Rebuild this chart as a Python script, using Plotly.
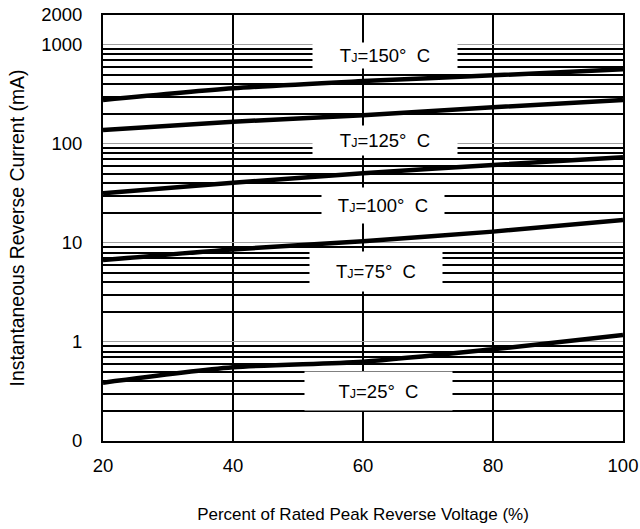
import math
import plotly.graph_objects as go

# ---- data ----
x_pct = [20, 40, 60, 80, 100]
i_150 = [277, 364, 430, 492, 566]
i_125 = [138, 167, 195, 234, 277]
i_100 = [31.7, 40.5, 50.5, 61.2, 73.1]
i_75 = [6.7, 8.6, 10.4, 13.0, 17.0]
i_25 = [0.388, 0.555, 0.632, 0.843, 1.175]

x_ticks = [20, 40, 60, 80, 100]
y_tickvals = [0.1, 1, 10, 100, 1000, 2000]
y_ticktext = ["0", "1", "10", "100", "1000", "2000"]

label_temps = ["150", "125", "100", "75", "25"]

FONT = "Liberation Sans, Arial, sans-serif"

fig = go.Figure()
for ys in [i_150, i_125, i_100, i_75, i_25]:
    fig.add_trace(go.Scatter(x=x_pct, y=ys, mode="lines",
                             line=dict(color="black", width=4.5, shape="spline", smoothing=0.8),
                             showlegend=False, hoverinfo="skip"))

# minor grid: 2..9 in every decade from 0.1 to 1000
minor_vals = []
for d in range(-1, 3):
    for k in range(2, 10):
        minor_vals.append(k * 10 ** d)

# label boxes: (x center, log10 y center, width px, height px)
boxes = [(63.4, 2.892, 144, 25),
         (63.4, 2.034, 144, 29),
         (63.0, 1.378, 122, 35),
         (62.0, 0.711, 132, 39),
         (62.4, -0.495, 147, 38)]
for t, (bx, by, bw, bh) in zip(label_temps, boxes):
    txt = ("T<span style='font-size:12.5px'>J</span>=" + t +
           "°\u00a0\u00a0C")
    fig.add_annotation(x=bx, y=by, xref="x", yref="y", text=txt, showarrow=False,
                       bgcolor="white", width=bw, height=bh, borderpad=0,
                       xanchor="center", yanchor="middle",
                       font=dict(family=FONT, size=18.5, color="black"))

fig.update_xaxes(range=[20, 100], tickmode="array", tickvals=x_ticks,
                 showgrid=True, gridcolor="black", gridwidth=2,
                 showline=True, linecolor="black", linewidth=2, mirror=True,
                 ticks="", ticklabelstandoff=7, zeroline=False, automargin=False,
                 tickfont=dict(family=FONT, size=18.5, color="black"),
                 title=dict(text="Percent of Rated Peak Reverse Voltage (%)",
                            font=dict(family=FONT, size=17, color="black"),
                            standoff=33))
fig.update_yaxes(type="log", range=[-1, math.log10(2000)], tickmode="array",
                 tickvals=y_tickvals, ticktext=y_ticktext,
                 showgrid=True, gridcolor="#a0a0a0", gridwidth=1.2,
                 minor=dict(tickmode="array", tickvals=minor_vals, showgrid=True,
                            gridcolor="black", gridwidth=1.5, ticks=""),
                 showline=True, linecolor="black", linewidth=2, mirror=True,
                 ticks="", ticklabelstandoff=15, zeroline=False, automargin=False,
                 tickfont=dict(family=FONT, size=18.5, color="black"),
                 title=dict(text="Instantaneous Reverse Current (mA)",
                            font=dict(family=FONT, size=19.4, color="black"),
                            standoff=11))

fig.update_layout(width=640, height=529, margin=dict(l=103, r=17, t=15, b=88),
                  paper_bgcolor="white", plot_bgcolor="white")

fig.write_html("out.html", config={"displayModeBar": False},
               post_script="document.body.style.margin='0';")
